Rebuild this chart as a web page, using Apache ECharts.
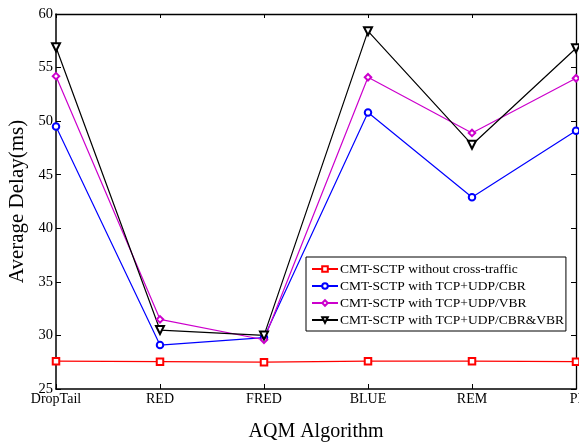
<!DOCTYPE html>
<html><head><meta charset="utf-8">
<script src="https://cdn.jsdelivr.net/npm/echarts@6/dist/echarts.min.js"></script>
<style>html,body{margin:0;padding:0;background:#fff}#c{width:579px;height:443px}</style>
</head><body><div id="c"></div>
<script>
const categories = ['DropTail','RED','FRED','BLUE','REM','PI'];
const noCross = [27.6, 27.55, 27.5, 27.6, 27.6, 27.55];
const cbr = [49.5, 29.1, 29.8, 50.8, 42.9, 49.1];
const vbr = [54.2, 31.5, 29.6, 54.1, 48.9, 54.0];
const cbrvbr = [56.9, 30.5, 30.0, 58.4, 47.8, 56.8];
const names = ['CMT-SCTP without cross-traffic','CMT-SCTP with TCP+UDP/CBR','CMT-SCTP with TCP+UDP/VBR','CMT-SCTP with TCP+UDP/CBR&VBR'];
const yTicks = {min:25, max:60, interval:5};

const font = 'Liberation Serif';
const chart = echarts.init(document.getElementById('c'));
function s(name, data, color, symbol, rot){
  return {name, type:'line', data, symbol, symbolSize: symbol==='emptyTriangle'?8:6.5, symbolRotate: rot||0,
    lineStyle:{color, width:1.2}, itemStyle:{color, borderColor:color, borderWidth:1.1}, color, animation:false, z:3};
}
chart.setOption({
  animation:false,
  grid:{left:56, right:3, top:14, bottom:54, containLabel:false, outerBoundsMode:'none'},
  textStyle:{fontFamily:font},
  legend:{orient:'vertical', left:306, top:257, backgroundColor:'#fff', borderColor:'#000', borderWidth:1,
    padding:[5,2,4,5], itemGap:3, itemWidth:26, itemHeight:7,
    textStyle:{fontFamily:font, fontSize:13.5, color:'#000', padding:[0,0,0,-3]}, data:names},
  xAxis:[
    {type:'category', data:categories, boundaryGap:false, position:'bottom',
     name:'AQM Algorithm', nameLocation:'middle', nameGap:33, nameTextStyle:{fontFamily:font, fontSize:20, color:'#000'},
     axisLine:{lineStyle:{color:'#000', width:1.5}}, axisTick:{inside:true, length:5, lineStyle:{color:'#000'}},
     axisLabel:{fontFamily:font, fontSize:14, color:'#000', margin:3}, splitLine:{show:false}},
    {type:'category', data:categories, boundaryGap:false, position:'top',
     axisLine:{lineStyle:{color:'#000', width:1.3}}, axisTick:{inside:true, length:4, lineStyle:{color:'#000'}},
     axisLabel:{show:false}, splitLine:{show:false}}
  ],
  yAxis:[
    {type:'value', min:yTicks.min, max:yTicks.max, interval:yTicks.interval, position:'left',
     name:'Average Delay(ms)', nameLocation:'middle', nameGap:27, nameRotate:90,
     nameTextStyle:{fontFamily:font, fontSize:21, color:'#000'},
     axisLine:{show:true, lineStyle:{color:'#000', width:1.5}}, axisTick:{show:true, inside:true, length:5, lineStyle:{color:'#000'}},
     axisLabel:{fontFamily:font, fontSize:14.5, color:'#000', margin:3}, splitLine:{show:false}},
    {type:'value', min:yTicks.min, max:yTicks.max, interval:yTicks.interval, position:'right',
     axisLine:{show:true, lineStyle:{color:'#000', width:1.3}}, axisTick:{show:true, inside:true, length:5, lineStyle:{color:'#000'}},
     axisLabel:{show:false}, splitLine:{show:false}}
  ],
  series:[
    s(names[0], noCross, '#ff0000', 'emptyRect'),
    s(names[1], cbr, '#0000ff', 'emptyCircle'),
    s(names[2], vbr, '#cc00cc', 'emptyDiamond'),
    s(names[3], cbrvbr, '#000000', 'emptyTriangle', 180)
  ]
});
</script></body></html>
